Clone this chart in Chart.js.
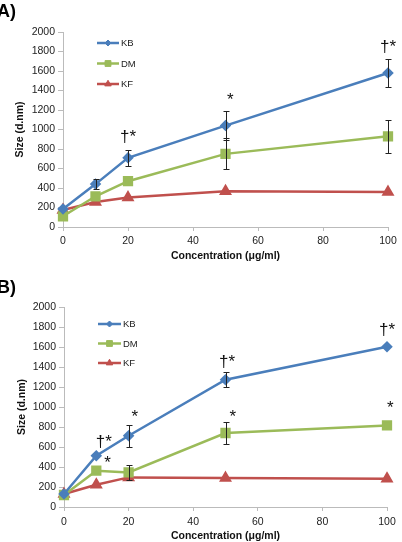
<!DOCTYPE html>
<html><head><meta charset="utf-8">
<script src="https://cdn.jsdelivr.net/npm/chart.js@4.4.1/dist/chart.umd.min.js"></script>
<style>
html,body{margin:0;padding:0;background:#fff;width:402px;height:542px;overflow:hidden;position:relative;font-family:"Liberation Sans",Arial,sans-serif}
.wrap{position:absolute;left:0;width:402px;height:271px}
.lbl{position:absolute;font-weight:bold;font-size:18px;color:#000;font-family:"Liberation Sans",Arial,sans-serif}
</style></head><body>
<div class="wrap" style="top:0"><canvas id="cA" width="402" height="271"></canvas></div>
<div class="wrap" style="top:271px"><canvas id="cB" width="402" height="271"></canvas></div>
<div class="lbl" style="left:-3px;top:1px">A)</div>
<div class="lbl" style="left:-3px;top:277px">B)</div>
<script>
// ---- data ----
const concentrations = [0, 10, 20, 50, 100];
const seriesNames = ["KB", "DM", "KF"];
// Panel A
const kbA = [185, 440, 710, 1040, 1580];
const dmA = [110, 315, 470, 750, 930];
const kfA = [175, 257, 302, 367, 358];
const kbErrA = [0, 55, 80, 145, 140];
const dmErrA = [0, 0, 0, 160, 170];
const kfErrA = [0, 0, 0, 0, 0];
const annA_x = [20, 51.5, 100];
const annA_y = [920, 1300, 1840];
const annA_t = ["†*", "*", "†*"];
// Panel B
const kbB = [130, 513, 713, 1273, 1603];
const dmB = [120, 363, 346, 740, 816];
const kfB = [130, 223, 296, 290, 283];
const kbErrB = [0, 0, 110, 75, 0];
const dmErrB = [0, 0, 75, 110, 0];
const kfErrB = [0, 0, 0, 0, 0];
const annB_x = [12.3, 13.5, 21.9, 50.5, 52.3, 100, 101];
const annB_y = [650, 440, 900, 1445, 900, 1770, 990];
const annB_t = ["†*", "*", "*", "†*", "*", "†*", "*"];
const xTicks = [0, 20, 40, 60, 80, 100];
const yTicks = [0, 200, 400, 600, 800, 1000, 1200, 1400, 1600, 1800, 2000];

const colors = ["#4A7EBB", "#9BBB59", "#C0504D"];
const shapes = ["rectRot", "rect", "triangle"];
const radii = [4, 5.5, 5];
const FONT = "'Liberation Sans', Arial, sans-serif";

function pts(arr){ return arr.map((v,i)=>({x:concentrations[i], y:v})); }

const errPlugin = {
  id:'errbars',
  afterDatasetsDraw(chart){
    const ctx = chart.ctx, xs = chart.scales.x, ys = chart.scales.y;
    const o = chart.options.plugins.errbars;
    ctx.save();
    ctx.strokeStyle = '#222'; ctx.lineWidth = 1;
    o.errs.forEach((e,k)=>{
      const ds = o.vals[k];
      e.forEach((err,i)=>{
        if(!err) return;
        const px = Math.round(xs.getPixelForValue(concentrations[i]));
        const t = Math.round(ys.getPixelForValue(ds[i]+err)), b = Math.round(ys.getPixelForValue(ds[i]-err));
        ctx.beginPath();
        ctx.moveTo(px+0.5,t); ctx.lineTo(px+0.5,b);
        ctx.moveTo(px-2.5,t+0.5); ctx.lineTo(px+3.5,t+0.5);
        ctx.moveTo(px-2.5,b+0.5); ctx.lineTo(px+3.5,b+0.5);
        ctx.stroke();
      });
    });
    ctx.restore();
  }
};

const annPlugin = {
  id:'ann',
  afterDraw(chart){
    const o = chart.options.plugins.ann;
    const ctx = chart.ctx, xs = chart.scales.x, ys = chart.scales.y;
    ctx.save();
    ctx.fillStyle = '#111';
    ctx.font = '17px ' + FONT;
    ctx.textAlign = 'center'; ctx.textBaseline = 'middle';
    o.x.forEach((xv,i)=>{
      ctx.fillText(o.t[i], xs.getPixelForValue(xv), ys.getPixelForValue(o.y[i]));
    });
    // legend
    const lg = o.legend;
    ctx.font = '9.5px ' + FONT;
    ctx.textAlign = 'left';
    chart.data.datasets.forEach((ds,i)=>{
      const y = lg.y + i*lg.gap;
      ctx.strokeStyle = ds.borderColor; ctx.lineWidth = 2.5;
      ctx.beginPath(); ctx.moveTo(lg.x, y); ctx.lineTo(lg.x+lg.w, y); ctx.stroke();
      ctx.fillStyle = ds.borderColor; ctx.lineWidth = 1;
      Chart.helpers.drawPoint(ctx, {pointStyle: ds.pointStyle, radius: ds.pointRadius*0.75, borderWidth:1}, lg.x+lg.w/2, y);
      ctx.fillStyle = '#222';
      ctx.fillText(ds.label, lg.x+lg.w+2, y+0.5);
    });
    ctx.restore();
  }
};

function makeChart(id, vals, errs, ann, geo){
  const datasets = vals.map((v,i)=>({
    label: seriesNames[i], data: pts(v),
    borderColor: colors[i], backgroundColor: colors[i],
    borderWidth: 2.5, pointStyle: shapes[i], pointRadius: radii[i],
    pointBorderColor: colors[i], pointBackgroundColor: colors[i],
    tension: 0, clip: false
  }));
  return new Chart(document.getElementById(id), {
    type:'line',
    data:{datasets},
    plugins:[errPlugin, annPlugin],
    options:{
      responsive:false, animation:false,
      layout:{padding:{top:geo.top, right:geo.right, left:geo.left, bottom:geo.bottom}},
      plugins:{
        legend:{display:false}, tooltip:{enabled:false},
        errbars:{errs, vals},
        ann:{x:ann[0], y:ann[1], t:ann[2], legend:geo.legend}
      },
      scales:{
        x:{type:'linear', min:0, max:100,
          afterBuildTicks(s){ s.ticks = xTicks.map(v=>({value:v})); },
          afterFit(s){ s.height = geo.xh; },
          grid:{drawOnChartArea:false, drawTicks:true, tickLength:4, color:'#BBBBBB'},
          border:{color:'#BBBBBB', width:1},
          ticks:{font:{family:FONT, size:10.5}, color:'#222', padding:geo.xtp, maxRotation:0, callback:v=>String(v)},
          title:{display:true, text:'Concentration (μg/ml)', font:{family:FONT, size:10.5, weight:'bold'}, color:'#111', padding:{top:2, bottom:0}}
        },
        y:{min:0, max:2000,
          afterBuildTicks(s){ s.ticks = yTicks.map(v=>({value:v})); },
          afterFit(s){ s.width = geo.yw; },
          grid:{drawOnChartArea:false, drawTicks:true, tickLength:5, color:'#BBBBBB'},
          border:{color:'#BBBBBB', width:1},
          ticks:{font:{family:FONT, size:10.5}, color:'#222', padding:3, callback:v=>String(v)},
          title:{display:true, text:'Size (d.nm)', font:{family:FONT, size:10.5, weight:'bold'}, color:'#111', padding:{top:0,bottom:4}}
        }
      }
    }
  });
}

makeChart('cA', [kbA, dmA, kfA], [kbErrA, dmErrA, kfErrA], [annA_x, annA_y, annA_t],
  {top:32, right:14, left:14, bottom:9, xh:35, yw:49, xtp:4, legend:{x:97, y:43, gap:20.5, w:22}});
makeChart('cB', [kbB, dmB, kfB], [kbErrB, dmErrB, kfErrB], [annB_x, annB_y, annB_t],
  {top:36, right:15, left:16, bottom:0, xh:35, yw:48, xtp:5, legend:{x:98, y:53, gap:19.5, w:23}});
</script>
</body></html>
